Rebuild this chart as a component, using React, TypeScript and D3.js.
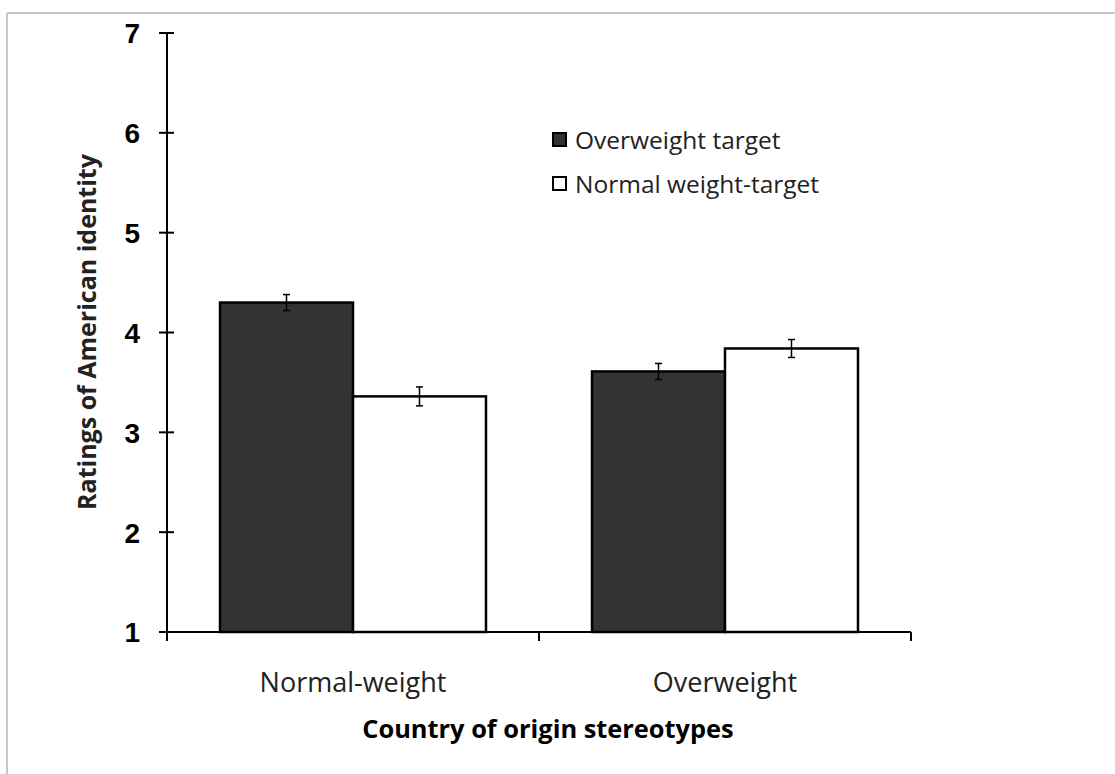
import React from "react";
import * as d3 from "d3";

const categories = ["Normal-weight", "Overweight"];
const seriesNames = ["Overweight target", "Normal weight-target"];
const overweightTarget = [4.3, 3.61];
const overweightErr = [0.08, 0.08];
const normalTarget = [3.36, 3.84];
const normalErr = [0.095, 0.09];
const yTicks = [1, 2, 3, 4, 5, 6, 7];

const W = 1115;
const H = 774;
const left = 167;
const right = 911;
const top = 33;
const bottom = 632;

const sansBold = "'Liberation Sans', Arial, sans-serif";
const calibri = "'Open Sans', Lato, sans-serif";

const App = () => {
  const y = d3.scaleLinear().domain([1, 7]).range([bottom, top]);
  const x = d3
    .scaleBand<string>()
    .domain(categories)
    .range([left, right])
    .paddingInner(0.285)
    .paddingOuter(0.1425);
  const inner = d3
    .scaleBand<number>()
    .domain([0, 1])
    .range([0, x.bandwidth()]);
  const step = (right - left) / categories.length;

  const series = [
    { name: seriesNames[0], values: overweightTarget, err: overweightErr, fill: "#333333" },
    { name: seriesNames[1], values: normalTarget, err: normalErr, fill: "#ffffff" },
  ];

  return (
    <svg
      width={W}
      height={H}
      style={{ position: "absolute", left: 0, top: 0, background: "#fff" }}
    >
      {/* frame */}
      <line x1={7} y1={13} x2={W} y2={13} stroke="#c8c8c8" strokeWidth={2} />
      <line x1={7} y1={13} x2={7} y2={H} stroke="#c8c8c8" strokeWidth={2} />

      {/* bars */}
      {series.map((s, si) =>
        categories.map((c, ci) => {
          const bx = (x(c) as number) + (inner(si) as number);
          const bw = inner.bandwidth();
          const v = s.values[ci];
          const e = s.err[ci];
          const cx = bx + bw / 2;
          return (
            <g key={s.name + c}>
              <rect
                x={bx}
                y={y(v)}
                width={bw}
                height={y(1) - y(v)}
                fill={s.fill}
                stroke="#000"
                strokeWidth={2.5}
              />
              <line x1={cx} x2={cx} y1={y(v + e)} y2={y(v - e)} stroke="#000" strokeWidth={1.5} />
              <line x1={cx - 3.5} x2={cx + 3.5} y1={y(v + e)} y2={y(v + e)} stroke="#000" strokeWidth={1.5} />
              <line x1={cx - 3.5} x2={cx + 3.5} y1={y(v - e)} y2={y(v - e)} stroke="#000" strokeWidth={1.5} />
            </g>
          );
        })
      )}

      {/* y axis */}
      <line x1={left} x2={left} y1={top} y2={bottom} stroke="#000" strokeWidth={2} />
      {yTicks.map((t) => (
        <g key={t}>
          <line x1={left - 8} x2={left + 7} y1={y(t)} y2={y(t)} stroke="#000" strokeWidth={2} />
          <text
            x={left - 27}
            y={y(t)}
            dy="0.37em"
            textAnchor="end"
            fontFamily={sansBold}
            fontWeight="bold"
            fontSize={28}
            fill="#000"
          >
            {t}
          </text>
        </g>
      ))}

      {/* x axis */}
      <line x1={left} x2={right} y1={bottom} y2={bottom} stroke="#000" strokeWidth={2} />
      {categories.map((c, i) => (
        <line
          key={"tick" + c}
          x1={left + step * (i + 1)}
          x2={left + step * (i + 1)}
          y1={bottom}
          y2={bottom + 9}
          stroke="#000"
          strokeWidth={2}
        />
      ))}
      <line x1={left} x2={left} y1={bottom} y2={bottom + 9} stroke="#000" strokeWidth={2} />
      {categories.map((c) => (
        <text
          key={"lbl" + c}
          x={(x(c) as number) + x.bandwidth() / 2}
          y={692}
          textAnchor="middle"
          fontFamily={calibri}
          fontSize={27}
          fill="#222"
        >
          {c}
        </text>
      ))}

      {/* axis titles */}
      <text
        x={548}
        y={738}
        textAnchor="middle"
        fontFamily={calibri}
        fontWeight="bold"
        fontSize={25.4}
        fill="#000"
      >
        Country of origin stereotypes
      </text>
      <text
        transform={`translate(96, 332) rotate(-90)`}
        textAnchor="middle"
        fontFamily={calibri}
        fontWeight="bold"
        fontSize={25}
        fill="#222"
      >
        Ratings of American identity
      </text>

      {/* legend */}
      {series.map((s, i) => (
        <g key={"leg" + s.name} transform={`translate(553, ${133 + i * 44})`}>
          <rect x={0} y={0} width={13} height={13} fill={s.fill} stroke="#000" strokeWidth={2} />
          <text x={22} y={16} fontFamily={calibri} fontSize={24.5} fill="#222">
            {s.name}
          </text>
        </g>
      ))}
    </svg>
  );
};

export default App;
